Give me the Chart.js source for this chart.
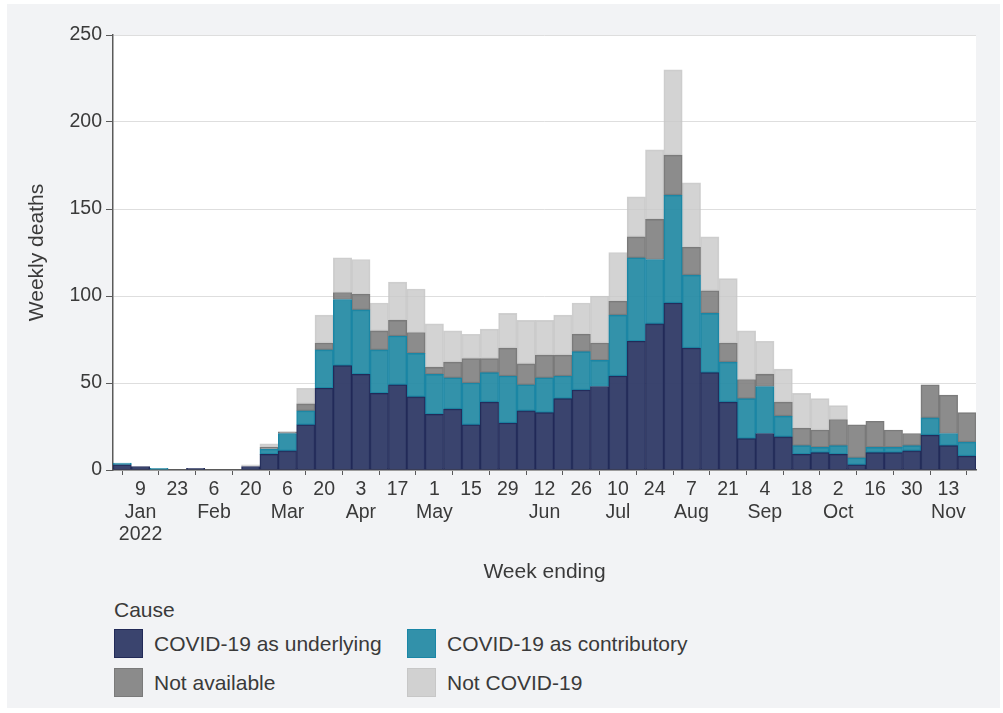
<!DOCTYPE html>
<html lang="en">
<head>
    <meta charset="UTF-8">
    <title>Weekly deaths by cause</title>
    <script src="https://cdn.jsdelivr.net/npm/chart.js"></script>
    <style>
        body {
            margin: 0;
            background: #ffffff;
            font-family: "Liberation Sans", Arial, sans-serif;
            color: #3a3a3a;
        }
        .panel {
            position: absolute;
            left: 7px;
            top: 4px;
            width: 993px;
            height: 704px;
            background: #f2f3f5;
        }
        #chart {
            position: absolute;
            left: 0;
            top: 0;
        }
        .legend-title {
            position: absolute;
            left: 107px;
            top: 594px;
            font-size: 21px;
        }
        .legend {
            position: absolute;
            left: 107px;
            top: 625px;
            display: grid;
            grid-template-columns: 293px 300px;
            row-gap: 10px;
        }
        .legend-item {
            display: flex;
            align-items: center;
            font-size: 21px;
            height: 29px;
        }
        .legend-box {
            width: 27px;
            height: 27px;
            border: 1px solid;
            margin-right: 11px;
        }
    </style>
</head>
<body>
    <div class="panel">
        <canvas id="chart" width="993" height="590"></canvas>
        <div class="legend-title">Cause</div>
        <div class="legend" id="legend"></div>
    </div>

    <script>
        const weeks = [
            '2022-01-02', '2022-01-09', '2022-01-16', '2022-01-23', '2022-01-30',
            '2022-02-06', '2022-02-13', '2022-02-20', '2022-02-27',
            '2022-03-06', '2022-03-13', '2022-03-20', '2022-03-27',
            '2022-04-03', '2022-04-10', '2022-04-17', '2022-04-24',
            '2022-05-01', '2022-05-08', '2022-05-15', '2022-05-22', '2022-05-29',
            '2022-06-05', '2022-06-12', '2022-06-19', '2022-06-26',
            '2022-07-03', '2022-07-10', '2022-07-17', '2022-07-24', '2022-07-31',
            '2022-08-07', '2022-08-14', '2022-08-21', '2022-08-28',
            '2022-09-04', '2022-09-11', '2022-09-18', '2022-09-25',
            '2022-10-02', '2022-10-09', '2022-10-16', '2022-10-23', '2022-10-30',
            '2022-11-06', '2022-11-13', '2022-11-20'
        ];

        // one entry per week, null = no tick drawn
        const tickLabels = [
            null, ['9', 'Jan', '2022'], null, ['23'], null,
            ['6', 'Feb'], null, ['20'], null,
            ['6', 'Mar'], null, ['20'], null,
            ['3', 'Apr'], null, ['17'], null,
            ['1', 'May'], null, ['15'], null, ['29'],
            null, ['12', 'Jun'], null, ['26'],
            null, ['10', 'Jul'], null, ['24'], null,
            ['7', 'Aug'], null, ['21'], null,
            ['4', 'Sep'], null, ['18'], null,
            ['2', 'Oct'], null, ['16'], null, ['30'],
            null, ['13', 'Nov'], null
        ];

        const underlying = [3, 2, 0, 0, 1, 0, 0, 2, 9, 11, 26, 47, 60, 55, 44, 49, 42, 32, 35, 26, 39, 27, 34, 33, 41, 46, 48, 54, 74, 84, 96, 70, 56, 39, 18, 21, 19, 9, 10, 9, 3, 10, 10, 11, 20, 14, 8];
        const contributory = [1, 0, 1, 0, 0, 0, 0, 0, 3, 10, 8, 22, 38, 37, 25, 28, 25, 23, 18, 24, 17, 27, 15, 20, 13, 22, 15, 35, 48, 37, 62, 42, 34, 23, 23, 27, 12, 5, 3, 5, 4, 3, 3, 3, 10, 7, 8];
        const notAvailable = [0, 0, 0, 0, 0, 0, 0, 0, 1, 1, 4, 4, 4, 9, 11, 9, 12, 4, 9, 14, 8, 16, 12, 13, 12, 10, 10, 8, 12, 23, 23, 16, 13, 11, 11, 7, 8, 10, 10, 15, 19, 15, 10, 7, 19, 22, 17];
        const notCovid = [0, 0, 0, 0, 0, 0, 0, 1, 2, 0, 9, 16, 20, 20, 16, 22, 25, 25, 18, 14, 17, 20, 25, 20, 23, 18, 27, 28, 23, 40, 49, 37, 31, 37, 28, 19, 19, 20, 18, 8, 0, 0, 0, 0, 0, 0, 0];

        const yTicks = [0, 50, 100, 150, 200, 250];

        const textColor = '#3a3a3a';
        const axisColor = '#5a5a5a';

        Chart.defaults.font.family = '"Liberation Sans", Arial, sans-serif';
        Chart.defaults.color = textColor;

        function makeDataset(label, data, fill, border) {
            return {
                label: label,
                data: data,
                backgroundColor: fill,
                borderColor: border,
                borderWidth: 1,
                borderSkipped: false,
                barPercentage: 1,
                categoryPercentage: 1
            };
        }

        const plotBackground = {
            id: 'plotBackground',
            beforeDraw(chart) {
                const {ctx, chartArea} = chart;
                ctx.save();
                ctx.fillStyle = '#ffffff';
                ctx.fillRect(chartArea.left, chartArea.top, chartArea.width, chartArea.height);
                ctx.restore();
            }
        };

        const chart = new Chart(document.getElementById('chart').getContext('2d'), {
            type: 'bar',
            data: {
                labels: weeks,
                datasets: [
                    makeDataset('COVID-19 as underlying', underlying, 'rgba(47, 58, 102, 0.95)', '#222a58'),
                    makeDataset('COVID-19 as contributory', contributory, 'rgba(34, 137, 163, 0.92)', '#1a86a6'),
                    makeDataset('Not available', notAvailable, 'rgba(128, 128, 128, 0.9)', '#7a7a7a'),
                    makeDataset('Not COVID-19', notCovid, 'rgba(200, 200, 200, 0.8)', 'rgba(196, 196, 196, 0.8)')
                ]
            },
            options: {
                responsive: false,
                animation: false,
                layout: { padding: { top: 31, right: 24, bottom: 4, left: 0 } },
                plugins: {
                    legend: { display: false },
                    tooltip: { enabled: false }
                },
                scales: {
                    x: {
                        stacked: true,
                        offset: true,
                        grid: { drawOnChartArea: false, drawTicks: true, tickLength: 5, color: axisColor },
                        border: { color: axisColor, width: 1.5 },
                        ticks: {
                            autoSkip: false,
                            maxRotation: 0,
                            padding: 4,
                            font: { size: 19.5, lineHeight: 1.14 },
                            callback: (value, index) => tickLabels[index]
                        },
                        title: {
                            display: true,
                            text: 'Week ending',
                            font: { size: 21 },
                            padding: { top: 0, bottom: 5 }
                        },
                        afterFit: scale => { scale.height = 120; }
                    },
                    y: {
                        stacked: true,
                        min: 0,
                        max: 250,
                        afterBuildTicks: scale => { scale.ticks = yTicks.map(v => ({ value: v })); },
                        grid: { color: '#dedede', tickColor: axisColor, tickLength: 7 },
                        border: { color: axisColor, width: 1.5 },
                        ticks: { padding: 4, font: { size: 19.5 } },
                        title: {
                            display: true,
                            text: 'Weekly deaths',
                            font: { size: 21 },
                            padding: { top: 18, bottom: 0 }
                        },
                        afterFit: scale => { scale.width = 106; }
                    }
                }
            },
            plugins: [plotBackground]
        });

        // legend built from the chart's own datasets
        const legend = document.getElementById('legend');
        chart.data.datasets.forEach(ds => {
            const item = document.createElement('div');
            item.className = 'legend-item';
            const box = document.createElement('span');
            box.className = 'legend-box';
            box.style.background = ds.backgroundColor;
            box.style.borderColor = ds.borderColor;
            const text = document.createElement('span');
            text.textContent = ds.label;
            item.appendChild(box);
            item.appendChild(text);
            legend.appendChild(item);
        });
    </script>
</body>
</html>
